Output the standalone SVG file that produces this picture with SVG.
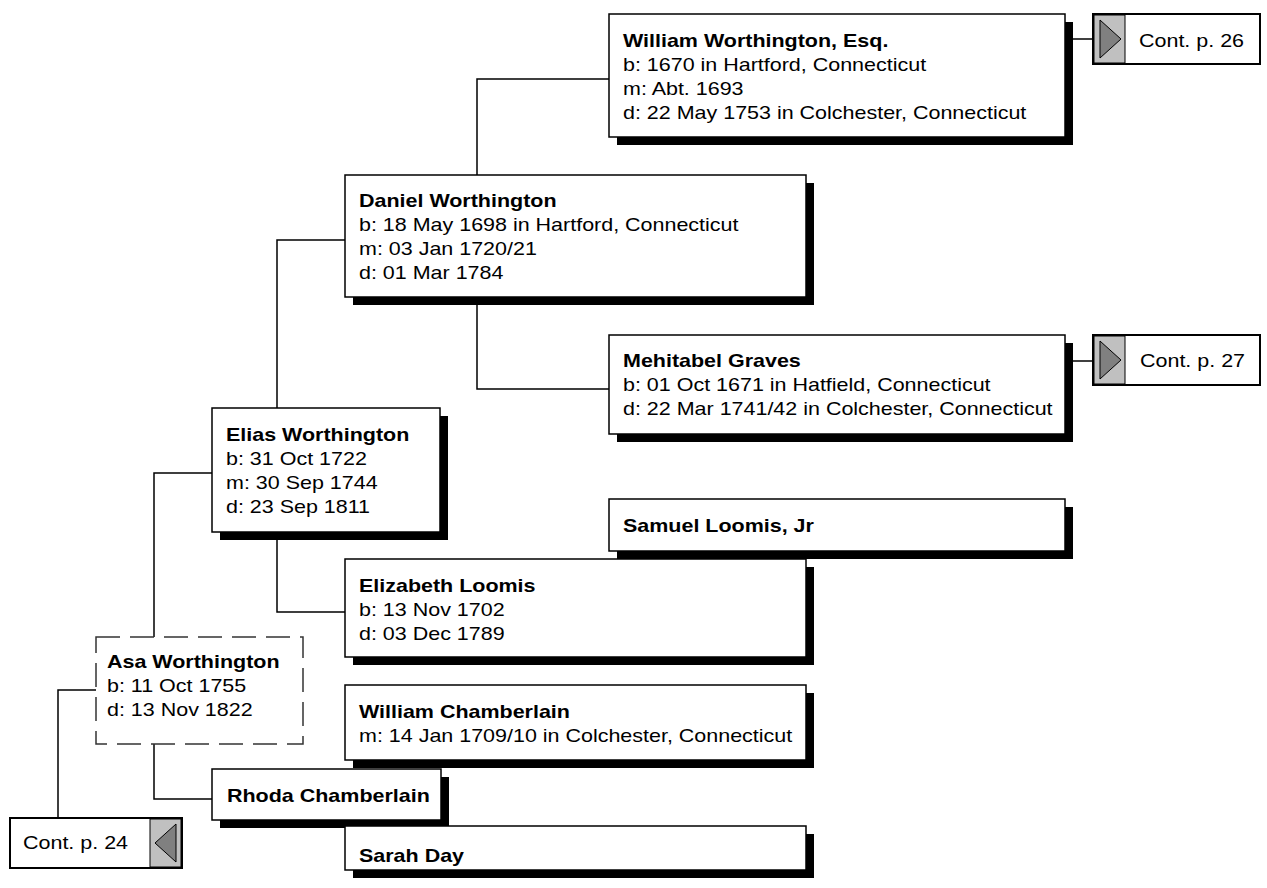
<svg xmlns="http://www.w3.org/2000/svg" width="1267" height="888" viewBox="0 0 1267 888">
<style>
.box{fill:#fff;stroke:#000;stroke-width:1.5}
.sh{fill:#000}
.dash{fill:#fff;stroke:#333;stroke-width:1.5;stroke-dasharray:24 10}
.t{font-family:"Liberation Sans",Arial,sans-serif;font-size:18.6px;fill:#000}
.b{font-weight:bold}
.cb{fill:#fff;stroke:#000;stroke-width:2}
.gr{fill:#c0c0c0;stroke:#000;stroke-width:1}
.tri{fill:#808080;stroke:#000;stroke-width:1}
.con{fill:none;stroke:#000;stroke-width:1.5}
</style>
<g id="connectors">
<path class="con" d="M609,79 H477 V175"/>
<path class="con" d="M477,297 V389 H609"/>
<path class="con" d="M345,240 H277 V408"/>
<path class="con" d="M277,532 V612 H345"/>
<path class="con" d="M212,473 H154 V637"/>
<path class="con" d="M154,744 V799 H212"/>
<path class="con" d="M96,690 H58 V818"/>
<path class="con" d="M1065,39 H1093"/>
<path class="con" d="M1065,361 H1093"/>
</g>
<g id="william-worthington">
<rect class="sh" x="617" y="22" width="456" height="123"/>
<rect class="box" x="609" y="14" width="456" height="123"/>
<text class="t" transform="translate(623,47) scale(1.155,1)"><tspan class="b" x="0" y="0">William Worthington, Esq.</tspan><tspan x="0" y="24">b: 1670 in Hartford, Connecticut</tspan><tspan x="0" y="48">m: Abt. 1693</tspan><tspan x="0" y="72">d: 22 May 1753 in Colchester, Connecticut</tspan></text>
</g>
<g id="cont-26">
<rect class="cb" x="1093" y="14" width="167" height="50"/>
<rect class="gr" x="1094" y="15" width="31" height="48"/>
<polygon class="tri" points="1100,20 1121,39 1100,58"/>
<text class="t" transform="translate(1139,47) scale(1.155,1)">Cont. p. 26</text>
</g>
<g id="daniel-worthington">
<rect class="sh" x="353" y="183" width="461" height="122"/>
<rect class="box" x="345" y="175" width="461" height="122"/>
<text class="t" transform="translate(359,207) scale(1.155,1)"><tspan class="b" x="0" y="0">Daniel Worthington</tspan><tspan x="0" y="24">b: 18 May 1698 in Hartford, Connecticut</tspan><tspan x="0" y="48">m: 03 Jan 1720/21</tspan><tspan x="0" y="72">d: 01 Mar 1784</tspan></text>
</g>
<g id="mehitabel-graves">
<rect class="sh" x="617" y="343" width="456" height="99"/>
<rect class="box" x="609" y="335" width="456" height="99"/>
<text class="t" transform="translate(623,367) scale(1.155,1)"><tspan class="b" x="0" y="0">Mehitabel Graves</tspan><tspan x="0" y="24">b: 01 Oct 1671 in Hatfield, Connecticut</tspan><tspan x="0" y="48">d: 22 Mar 1741/42 in Colchester, Connecticut</tspan></text>
</g>
<g id="cont-27">
<rect class="cb" x="1093" y="335" width="167" height="50"/>
<rect class="gr" x="1094" y="336" width="31" height="48"/>
<polygon class="tri" points="1100,341 1121,360 1100,379"/>
<text class="t" transform="translate(1140,367) scale(1.155,1)">Cont. p. 27</text>
</g>
<g id="elias-worthington">
<rect class="sh" x="220" y="416" width="228" height="124"/>
<rect class="box" x="212" y="408" width="228" height="124"/>
<text class="t" transform="translate(226,441) scale(1.155,1)"><tspan class="b" x="0" y="0">Elias Worthington</tspan><tspan x="0" y="24">b: 31 Oct 1722</tspan><tspan x="0" y="48">m: 30 Sep 1744</tspan><tspan x="0" y="72">d: 23 Sep 1811</tspan></text>
</g>
<g id="samuel-loomis">
<rect class="sh" x="617" y="507" width="456" height="52"/>
<rect class="box" x="609" y="499" width="456" height="52"/>
<text class="t" transform="translate(623,532) scale(1.155,1)"><tspan class="b">Samuel Loomis, Jr</tspan></text>
</g>
<g id="elizabeth-loomis">
<rect class="sh" x="353" y="567" width="461" height="98"/>
<rect class="box" x="345" y="559" width="461" height="98"/>
<text class="t" transform="translate(359,592) scale(1.155,1)"><tspan class="b" x="0" y="0">Elizabeth Loomis</tspan><tspan x="0" y="24">b: 13 Nov 1702</tspan><tspan x="0" y="48">d: 03 Dec 1789</tspan></text>
</g>
<g id="asa-worthington">
<rect class="dash" x="96" y="637" width="207" height="107"/>
<text class="t" transform="translate(107,668) scale(1.155,1)"><tspan class="b" x="0" y="0">Asa Worthington</tspan><tspan x="0" y="24">b: 11 Oct 1755</tspan><tspan x="0" y="48">d: 13 Nov 1822</tspan></text>
</g>
<g id="william-chamberlain">
<rect class="sh" x="353" y="693" width="461" height="75"/>
<rect class="box" x="345" y="685" width="461" height="75"/>
<text class="t" transform="translate(359,718) scale(1.155,1)"><tspan class="b" x="0" y="0">William Chamberlain</tspan><tspan x="0" y="24">m: 14 Jan 1709/10 in Colchester, Connecticut</tspan></text>
</g>
<g id="rhoda-chamberlain">
<rect class="sh" x="220" y="777" width="229" height="51"/>
<rect class="box" x="212" y="769" width="229" height="51"/>
<text class="t" transform="translate(227,802) scale(1.155,1)"><tspan class="b">Rhoda Chamberlain</tspan></text>
</g>
<g id="sarah-day">
<rect class="sh" x="353" y="834" width="461" height="44"/>
<rect class="box" x="345" y="826" width="461" height="44"/>
<text class="t" transform="translate(359,862) scale(1.155,1)"><tspan class="b">Sarah Day</tspan></text>
</g>
<g id="cont-24">
<rect class="cb" x="10" y="818" width="172" height="50"/>
<rect class="gr" x="150" y="819" width="31" height="48"/>
<polygon class="tri" points="176,824 155,843 176,862"/>
<text class="t" transform="translate(23,849) scale(1.155,1)">Cont. p. 24</text>
</g>
</svg>
